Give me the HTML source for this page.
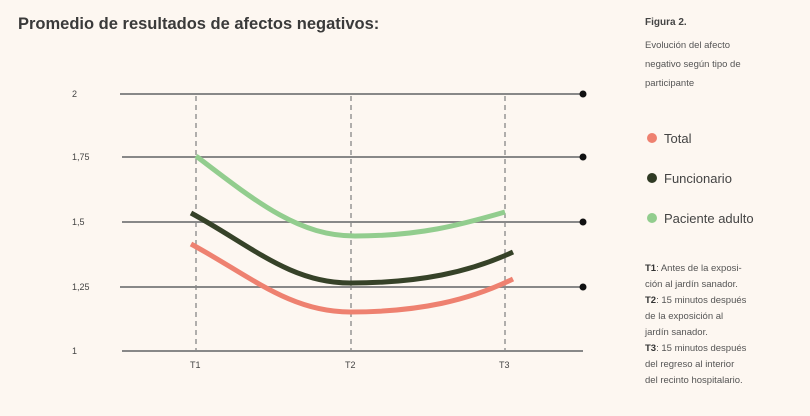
<!DOCTYPE html>
<html><head><meta charset="utf-8"><style>
html,body{margin:0;padding:0;background:#fdf7f1;}
body{width:810px;height:416px;overflow:hidden;position:relative;font-family:"Liberation Sans",sans-serif;color:#333;}
.t{position:absolute;}
</style></head><body>
<div class="t" style="left:18px;top:15px;font-size:16.5px;font-weight:bold;color:#3a3a3a;">Promedio de resultados de afectos negativos:</div>
<div class="t" style="left:645px;top:17px;font-size:10px;font-weight:bold;color:#444;">Figura 2.</div>
<div class="t" style="left:645px;top:36px;font-size:9.5px;line-height:19px;color:#555;">Evolución del afecto<br>negativo según tipo de<br>participante</div>
<svg class="t" style="left:0;top:0" width="810" height="416">
<g stroke="#888" stroke-width="2">
<line x1="120" y1="94" x2="583" y2="94"/><line x1="122" y1="157" x2="583" y2="157"/>
<line x1="122" y1="222" x2="583" y2="222"/><line x1="120" y1="287" x2="583" y2="287"/>
<line x1="122" y1="351" x2="583" y2="351"/></g>
<g stroke="#888" stroke-width="1.3" stroke-dasharray="5,4">
<line x1="196" y1="96" x2="196" y2="350"/><line x1="351" y1="96" x2="351" y2="350"/><line x1="505" y1="96" x2="505" y2="350"/></g>
<g fill="#111"><circle cx="583" cy="94" r="3.5"/><circle cx="583" cy="157" r="3.5"/><circle cx="583" cy="222" r="3.5"/><circle cx="583" cy="287" r="3.5"/></g>
<g font-size="9" fill="#444"><text x="72" y="97">2</text><text x="72" y="160">1,75</text><text x="72" y="225">1,5</text><text x="72" y="290">1,25</text><text x="72" y="354">1</text>
<text x="190" y="368">T1</text><text x="345" y="368">T2</text><text x="499" y="368">T3</text></g>
<g fill="none" stroke-width="5" stroke-linecap="butt">
<path d="M196 156 C260 205 300 236 355 236 C420 236 460 225 505 212" stroke="#92cd8e"/>
<path d="M191 213 C250 245 290 283 350 283 C420 283 470 272 513 252" stroke="#364228"/>
<path d="M191 244 C250 276 290 312 350 312 C420 312 470 300 513 279" stroke="#ee8170"/>
</g>
<circle cx="652" cy="138" r="5" fill="#ee8170"/><circle cx="652" cy="178" r="5" fill="#2f3a24"/><circle cx="652" cy="218" r="5" fill="#92cd8e"/>
<g font-size="13" fill="#444"><text x="664" y="143">Total</text><text x="664" y="183">Funcionario</text><text x="664" y="223">Paciente adulto</text></g>
</svg>
<div class="t" style="left:645px;top:261px;font-size:9.5px;line-height:16px;color:#555;"><b style="color:#333">T1</b>: Antes de la exposi-<br>ción al jardín sanador.<br><b style="color:#333">T2</b>: 15 minutos después<br>de la exposición al<br>jardín sanador.<br><b style="color:#333">T3</b>: 15 minutos después<br>del regreso al interior<br>del recinto hospitalario.</div>
</body></html>
